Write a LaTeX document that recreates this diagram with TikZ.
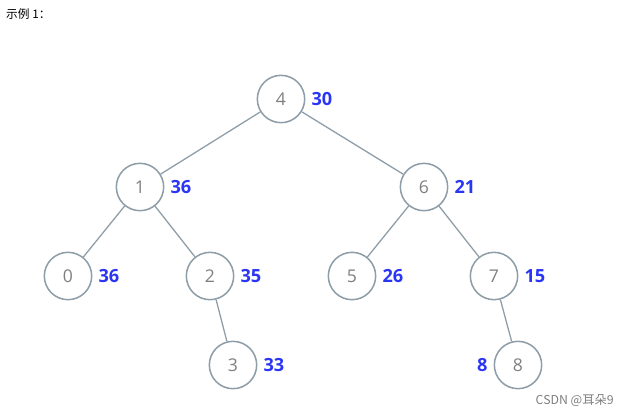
\documentclass[tikz,border=0pt]{standalone}
\usepackage{fontspec}
\setmainfont{Open Sans}
\newfontfamily\cjk{Noto Sans CJK SC}
\usetikzlibrary{positioning}
\definecolor{edgegray}{HTML}{8E9EA8}
\definecolor{numgray}{HTML}{7F7F7F}
\definecolor{wblue}{HTML}{2B36F5}
\tikzset{v/.style={circle, draw=edgegray, line width=1.3pt, minimum size=1.42cm, inner sep=0pt, text=numgray, font=\fontsize{15}{15}\selectfont}}
\tikzset{w/.style={text=wblue, font=\bfseries\fontsize{15.5}{15.5}\selectfont, inner sep=0pt}}
\tikzset{e/.style={draw=edgegray, line width=1.1pt}}

\begin{document}
\begin{tikzpicture}[x=0.03cm, y=-0.03cm]
    \useasboundingbox (0,0) rectangle (628,417);
    \node [anchor=west, inner sep=0pt, font=\cjk\fontsize{10}{10}\selectfont] (title) at (6,14) {示例 1：};
    \node [v] (n4) at (281,99) {4};
    \node [v] (n1) at (140,187) {1};
    \node [v] (n6) at (424,187) {6};
    \node [v] (n0) at (68,276) {0};
    \node [v] (n2) at (210,276) {2};
    \node [v] (n5) at (352,276) {5};
    \node [v] (n7) at (494,276) {7};
    \node [v] (n3) at (233,365) {3};
    \node [v] (n8) at (518,365) {8};
    \draw[e] (n4) -- (n1);
    \draw[e] (n4) -- (n6);
    \draw[e] (n1) -- (n0);
    \draw[e] (n1) -- (n2);
    \draw[e] (n2) -- (n3);
    \draw[e] (n6) -- (n5);
    \draw[e] (n6) -- (n7);
    \draw[e] (n7) -- (n8);
    \node [w, right=5pt of n4] (w4) {30};
    \node [w, right=5pt of n1] (w1) {36};
    \node [w, right=5pt of n6] (w6) {21};
    \node [w, right=5pt of n0] (w0) {36};
    \node [w, right=5pt of n2] (w2) {35};
    \node [w, right=5pt of n5] (w5) {26};
    \node [w, right=5pt of n7] (w7) {15};
    \node [w, right=5pt of n3] (w3) {33};
    \node [w, left=5pt of n8] (w8) {8};
    \node [anchor=east, inner sep=0pt, text=numgray, font=\cjk\fontsize{10.5}{10.5}\selectfont] (mark) at (614,401) {CSDN @耳朵9};
\end{tikzpicture}
\end{document}
